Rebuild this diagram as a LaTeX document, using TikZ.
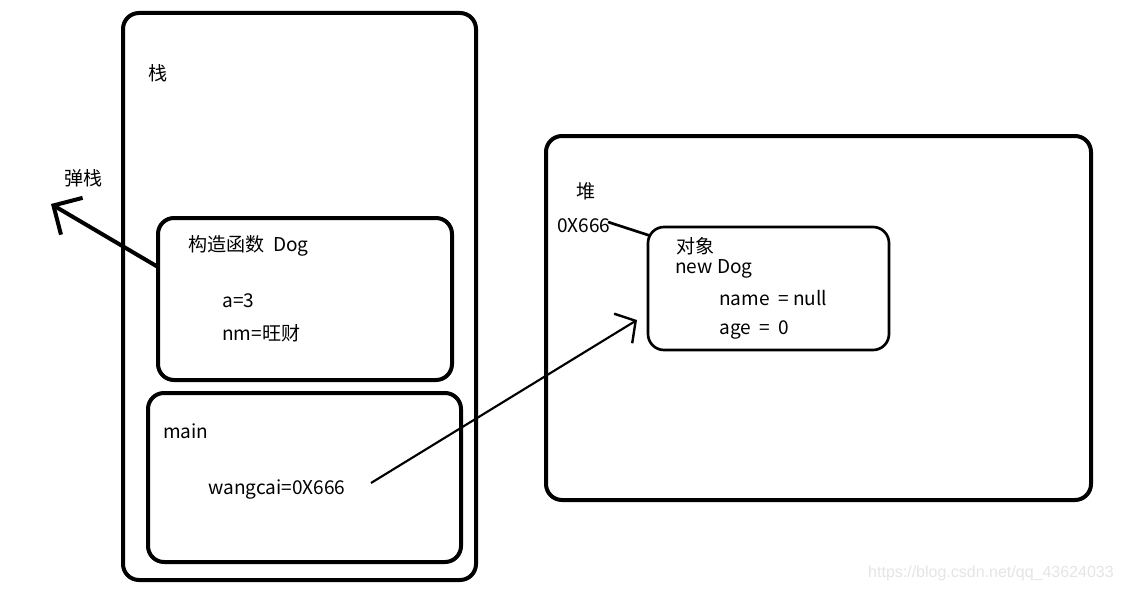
\documentclass[tikz,border=0pt]{standalone}
\usepackage{fontspec}
\setmainfont{Noto Sans CJK SC}
\newfontfamily\wmfont{Liberation Sans}
\usetikzlibrary{arrows.meta}
\tikzset{
  px/.style={x=0.75pt,y=-0.75pt},
  box/.style={draw=black,line width=3pt,rounded corners=12pt,inner sep=0pt,outer sep=0pt,anchor=north west},
  thinbox/.style={draw=black,line width=2pt,rounded corners=12pt,inner sep=0pt,outer sep=0pt,anchor=north west},
  lbl/.style={anchor=west,inner sep=0pt,font=\fontsize{14.3pt}{17pt}\selectfont},
  poparrow/.style={line width=3pt,-{Straight Barb[length=16pt,width=32pt,line width=3pt]}},
  refarrow/.style={line width=1.6pt,-{Straight Barb[length=11pt,width=26pt,line width=1.8pt]}},
  link/.style={line width=2pt},
}
\begin{document}
\begin{tikzpicture}[px]
\useasboundingbox (0,0) rectangle (1124,592);
\fill[white] (0,0) rectangle (1124,592);
% boxes
\node[box,minimum width=264.75pt,minimum height=425.25pt] (stack) at (123,13) {};
\node[box,minimum width=220.5pt,minimum height=121.5pt] (ctor) at (158,218) {};
\node[box,minimum width=234.75pt,minimum height=126.75pt] (mainbox) at (148,393) {};
\node[box,minimum width=408.75pt,minimum height=273pt] (heap) at (546,136) {};
\node[thinbox,minimum width=180.75pt,minimum height=92.25pt] (obj) at (648,227) {};
% texts
\node[lbl] (stk) at (148,73) {栈};
\node[lbl] (pop) at (64,178) {弹栈};
\node[lbl] (ctorlbl) at (188,246) {构造函数\ \ Dog};
\node[lbl] (a) at (222,301) {a=3};
\node[lbl] (nm) at (222,333) {nm=旺财};
\node[lbl] (mainlbl) at (163,431) {main};
\node[lbl] (wc) at (208,489) {wangcai=0X666};
\node[lbl] (heaplbl) at (576,191) {堆};
\node[lbl] (addr) at (557,226) {0X666};
\node[lbl] (objlbl) at (676,246) {对象};
\node[lbl] (newdog) at (675,269) {new Dog};
\node[lbl] (name) at (719,298) {name\ \ = null};
\node[lbl] (age) at (719,330) {age\ \ =\ \ 0};
\node[anchor=east,inner sep=0pt,text=black!10,font=\wmfont\fontsize{12pt}{14pt}\selectfont] (wm) at (1114,573) {https://blog.csdn.net/qq\_43624033};
% connectors
\coordinate (popend) at (51,204);
\coordinate (ctorleft) at (158,267);
\draw[poparrow] (ctorleft) -- (popend);
\coordinate (reftip) at (637,320);
\coordinate (wcend) at (371,483);
\draw[refarrow] (wcend) -- (reftip);
\coordinate (addrend) at (608,222);
\coordinate (objcorner) at (651,236);
\draw[link] (addrend) -- (objcorner);
\end{tikzpicture}
\end{document}
